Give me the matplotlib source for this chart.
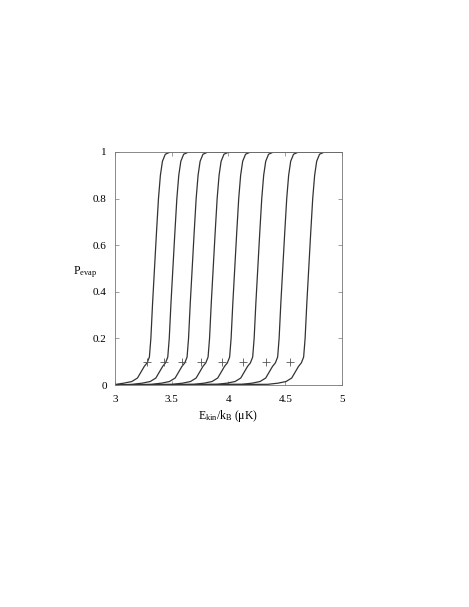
import matplotlib.pyplot as plt

plt.rcParams['font.family'] = ['Liberation Serif', 'DejaVu Serif']
plt.rcParams['mathtext.fontset'] = 'custom'
plt.rcParams['mathtext.rm'] = 'Liberation Serif'
plt.rcParams['mathtext.it'] = 'Liberation Serif:italic'

# shared P_evap levels, one x list per curve
p_levels = [0.0, 0.003, 0.008, 0.015, 0.03, 0.055, 0.08, 0.095, 0.12, 0.2,
            0.35, 0.5, 0.65, 0.8, 0.9, 0.96, 0.99, 1.0, 1.0]

curve1 = [3.0, 3.01, 3.078, 3.148, 3.198, 3.228, 3.258, 3.283, 3.303, 3.316,
          3.331, 3.348, 3.365, 3.383, 3.400, 3.418, 3.443, 3.488, 5.0]
curve2 = [3.0, 3.15, 3.24, 3.31, 3.36, 3.39, 3.42, 3.445, 3.465, 3.478,
          3.493, 3.51, 3.527, 3.545, 3.562, 3.58, 3.605, 3.65, 5.0]
curve3 = [3.0, 3.32, 3.41, 3.48, 3.53, 3.56, 3.59, 3.615, 3.635, 3.648,
          3.663, 3.68, 3.697, 3.715, 3.732, 3.75, 3.775, 3.82, 5.0]
curve4 = [3.0, 3.505, 3.595, 3.665, 3.715, 3.745, 3.775, 3.80, 3.82, 3.833,
          3.848, 3.865, 3.882, 3.90, 3.917, 3.935, 3.96, 4.005, 5.0]
curve5 = [3.0, 3.695, 3.785, 3.855, 3.905, 3.935, 3.965, 3.99, 4.01, 4.023,
          4.038, 4.055, 4.072, 4.09, 4.107, 4.125, 4.15, 4.195, 5.0]
curve6 = [3.0, 3.898, 3.988, 4.058, 4.108, 4.138, 4.168, 4.193, 4.213, 4.226,
          4.241, 4.258, 4.275, 4.293, 4.31, 4.328, 4.353, 4.398, 5.0]
curve7 = [3.0, 4.118, 4.208, 4.278, 4.328, 4.358, 4.388, 4.413, 4.433, 4.446,
          4.461, 4.478, 4.495, 4.513, 4.53, 4.548, 4.573, 4.618, 5.0]
curve8 = [3.0, 4.347, 4.437, 4.507, 4.557, 4.587, 4.617, 4.642, 4.662, 4.675,
          4.69, 4.707, 4.724, 4.742, 4.759, 4.777, 4.802, 4.847, 5.0]
curves = [curve1, curve2, curve3, curve4, curve5, curve6, curve7, curve8]

# simulation points
pts_x = [3.285, 3.43, 3.592, 3.762, 3.94, 4.13, 4.328, 4.538]
pts_y = [0.1, 0.1, 0.1, 0.1, 0.1, 0.1, 0.1, 0.1]

xticks = [3, 3.5, 4, 4.5, 5]
xtick_labels = ['3', '3.5', '4', '4.5', '5']
yticks = [0, 0.2, 0.4, 0.6, 0.8, 1]
ytick_labels = ['0', '0.2', '0.4', '0.6', '0.8', '1']

fig = plt.figure(figsize=(4.69, 6.07), dpi=100)
ax = fig.add_axes([0.2452, 0.3657, 0.484, 0.384])

for cx in curves:
    ax.plot(cx, p_levels, color='#333333', lw=0.9)

ax.plot(pts_x, pts_y, ls='none', marker='+', ms=6, mew=0.6, color='#555555')

ax.set_xlim(3, 5)
ax.set_ylim(0, 1)
ax.set_xticks(xticks)
ax.set_xticklabels(xtick_labels)
ax.set_yticks(yticks)
ax.set_yticklabels(ytick_labels)
ax.tick_params(direction='in', top=True, right=True, length=3, width=0.5,
               color='#777777', labelsize=8)
ax.tick_params(axis='x', pad=7)
ax.tick_params(axis='y', pad=6)
for s in ax.spines.values():
    s.set_linewidth(0.6)
    s.set_color('#777777')

fig.text(0.155, 0.551, r'P$_{\mathrm{evap}}$', fontsize=8.5, ha='left', va='center')
fig.text(0.487, 0.314, r'E$_{\mathrm{kin}}$/k$_{\mathrm{B}}$ ($\mathrm{\mu}$K)',
         fontsize=8.5, ha='center', va='center')

fig.savefig('out.png', dpi=100)
